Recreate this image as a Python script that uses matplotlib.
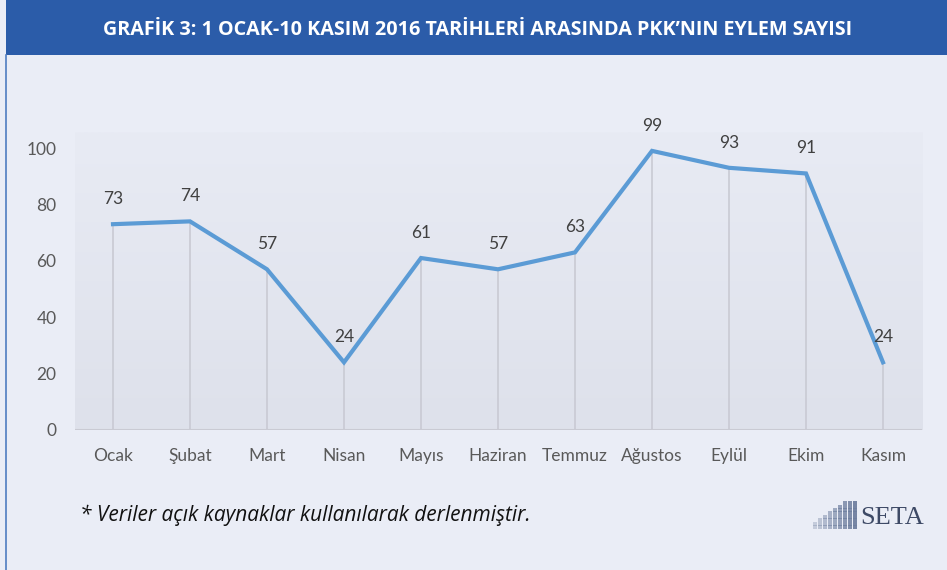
import matplotlib
matplotlib.use("Agg")
import matplotlib.pyplot as plt
import numpy as np
from matplotlib.patches import Rectangle

months = ["Ocak", "Şubat", "Mart", "Nisan", "Mayıs", "Haziran", "Temmuz",
          "Ağustos", "Eylül", "Ekim", "Kasım"]
values = [73, 74, 57, 24, 61, 57, 63, 99, 93, 91, 24]
yticks = [0, 20, 40, 60, 80, 100]
title = "GRAFİK 3: 1 OCAK-10 KASIM 2016 TARİHLERİ ARASINDA PKK’NIN EYLEM SAYISI"
note = "* Veriler açık kaynaklar kullanılarak derlenmiştir."

plt.rcParams['font.family'] = ['Lato', 'DejaVu Sans']

W, H = 947, 570
fig = plt.figure(figsize=(W / 100, H / 100), dpi=100)
fig.patch.set_facecolor("#EAEDF6")

# title bar
fig.add_artist(Rectangle((6 / W, 1 - 55 / H), 1, 55 / H, transform=fig.transFigure,
                         facecolor="#2B5CA9", edgecolor="none", zorder=0))
fig.text(478 / W, 1 - 30 / H, title, color="white", fontsize=14.2, fontweight="bold",
         ha="center", va="center", family=["Open Sans", "DejaVu Sans"], fontstretch="condensed")
# left border line
fig.add_artist(plt.Line2D([6 / W, 6 / W], [0, 1 - 55 / H], transform=fig.transFigure,
                          color="#4F7DC0", lw=1.2))

ax = fig.add_axes([74.5 / W, 1 - 430 / H, (921.5 - 74.5) / W, (430 - 132) / H])
ax.set_facecolor("none")
x = np.arange(len(months))
ax.set_xlim(-0.5, len(months) - 0.5)
ax.set_ylim(0, 105.7)

# gradient background
grad = np.linspace(0, 1, 100).reshape(-1, 1)
ax.imshow(grad, extent=[-0.5, len(months) - 0.5, 0, 105.7], aspect="auto",
          cmap=matplotlib.colors.LinearSegmentedColormap.from_list("g", ["#DEE1EB", "#E8EBF4"]),
          origin="lower", zorder=0)

ax.vlines(x, 0, values, color="#C9CAD3", lw=1.2, zorder=1)
ax.plot(x, values, color="#5B9BD5", lw=3, zorder=3, solid_joinstyle="miter")
for xi, v in zip(x, values):
    ax.annotate(str(v), (xi, v), xytext=(0, 18), textcoords="offset points",
                ha="center", va="center", fontsize=12.5, color="#404040")

ax.axhline(0, color="#C9CAD3", lw=1.5, zorder=2)
for s in ax.spines.values():
    s.set_visible(False)
ax.set_xticks(x)
ax.set_xticklabels(months, fontsize=12.5, color="#595959")
ax.set_yticks(yticks)
ax.set_yticklabels([str(t) for t in yticks], fontsize=12.5, color="#595959")
ax.tick_params(axis="x", length=0, pad=13)
ax.tick_params(axis="y", length=0, pad=13)

fig.text(80 / W, 1 - 515 / H, note, fontsize=15, style="italic", color="#111111",
         ha="left", va="center", family=["Open Sans", "DejaVu Sans"])

# SETA logo
lx0, ly0 = 815, 527
ncol = 9
for j in range(ncol):
    nrow = 2 + j
    for i in range(min(nrow, 8)):
        fig.add_artist(plt.Line2D([(lx0 + j * 5) / W], [1 - (ly0 - i * 3.4) / H], marker="s",
                                  ms=2.6, color="#6F7F9F", transform=fig.transFigure,
                                  alpha=0.3 + 0.08 * j, markeredgewidth=0))
fig.text(860 / W, 1 - 518 / H, "SETA", fontsize=19, family=["Liberation Serif", "DejaVu Serif"],
         color="#3E4A66", ha="left", va="center")

fig.savefig("out.png", dpi=100, facecolor=fig.get_facecolor())
